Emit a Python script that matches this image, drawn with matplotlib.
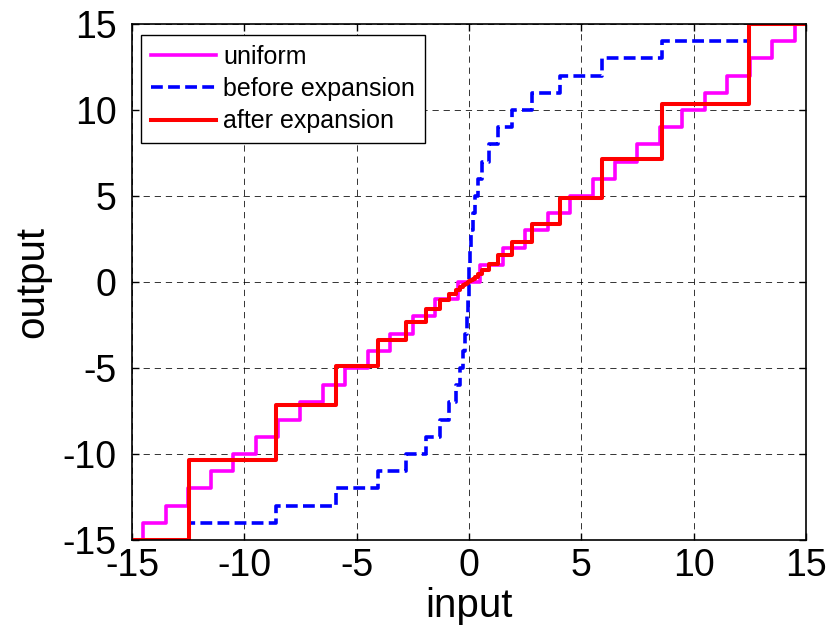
import matplotlib as mpl
mpl.use("Agg")
import matplotlib.pyplot as plt

# --- Datos ---
# cuantizador uniforme: umbrales de entrada y niveles de salida
uniform_edges = [-14.5, -13.5, -12.5, -11.5, -10.5, -9.5, -8.5, -7.5, -6.5, -5.5,
                 -4.5, -3.5, -2.5, -1.5, -0.5, 0.5, 1.5, 2.5, 3.5, 4.5,
                 5.5, 6.5, 7.5, 8.5, 9.5, 10.5, 11.5, 12.5, 13.5, 14.5]
uniform_levels = [-15, -14, -13, -12, -11, -10, -9, -8, -7, -6, -5, -4, -3, -2, -1, 0,
                  1, 2, 3, 4, 5, 6, 7, 8, 9, 10, 11, 12, 13, 14, 15]

# cuantizador con compresión: umbrales (mismos para antes / después de expansión)
compand_edges = [-12.46, -8.59, -5.92, -4.07, -2.79, -1.91, -1.30, -0.88, -0.59, -0.39,
                 -0.25, -0.16, -0.09, -0.04, -0.01, 0.01, 0.04, 0.09, 0.16, 0.25,
                 0.39, 0.59, 0.88, 1.30, 1.91, 2.79, 4.07, 5.92, 8.59, 12.46]
before_levels = [-15, -14, -13, -12, -11, -10, -9, -8, -7, -6, -5, -4, -3, -2, -1, 0,
                 1, 2, 3, 4, 5, 6, 7, 8, 9, 10, 11, 12, 13, 14, 15]
after_levels = [-15, -10.35, -7.13, -4.91, -3.37, -2.31, -1.58, -1.07, -0.72, -0.48,
                -0.31, -0.20, -0.12, -0.06, -0.03, 0.0, 0.03, 0.06, 0.12, 0.20,
                0.31, 0.48, 0.72, 1.07, 1.58, 2.31, 3.37, 4.91, 7.13, 10.35, 15]

x_min, x_max = -15, 15
xticks = [-15, -10, -5, 0, 5, 10, 15]
yticks = [-15, -10, -5, 0, 5, 10, 15]


def step_xy(edges, levels):
    xs = [x_min] + list(edges) + [x_max]
    ys = list(levels) + [levels[-1]]
    return xs, ys


mpl.rcParams.update({
    "font.family": ["Liberation Sans", "DejaVu Sans"],
    "lines.scale_dashes": False,
    "axes.unicode_minus": False,
})

fig = plt.figure(figsize=(8.38, 6.32), dpi=100)
fig.patch.set_facecolor("white")
ax = fig.add_axes([0.1575, 0.1456, 0.8043, 0.8165])

xs, ys = step_xy(uniform_edges, uniform_levels)
ax.step(xs, ys, where="post", color="#ff00ff", linewidth=2.6, label="uniform")
xs, ys = step_xy(compand_edges, before_levels)
ax.step(xs, ys, where="post", color="#0000ff", linewidth=2.6, dashes=(8.5, 3.8),
        label="before expansion")
xs, ys = step_xy(compand_edges, after_levels)
ax.step(xs, ys, where="post", color="#ff0000", linewidth=2.9, label="after expansion")

ax.set_xlim(x_min, x_max)
ax.set_ylim(-15, 15)
ax.set_xticks(xticks)
ax.set_yticks(yticks)
ax.grid(True, color="black", linewidth=0.7, linestyle=(0, (4.5, 3.5)), alpha=0.8)
ax.set_axisbelow(True)

ax.tick_params(direction="in", top=True, right=True, length=5, width=1, labelsize=27)
ax.tick_params(axis="x", pad=6)
ax.tick_params(axis="y", pad=11)
for s in ax.spines.values():
    s.set_linewidth(1.2)

ax.set_xlabel("input", fontsize=29, labelpad=2)
ax.set_ylabel("output", fontsize=29, labelpad=8)

leg = ax.legend(loc="upper left", bbox_to_anchor=(0.013, 0.979), borderaxespad=0,
                fontsize=18, handlelength=2.6, handletextpad=0.3,
                labelspacing=0.33, borderpad=0.4, fancybox=False, framealpha=1)
leg.get_frame().set_edgecolor("black")
leg.get_frame().set_linewidth(1.0)

fig.savefig("out.png", dpi=100)
plt.close(fig)
